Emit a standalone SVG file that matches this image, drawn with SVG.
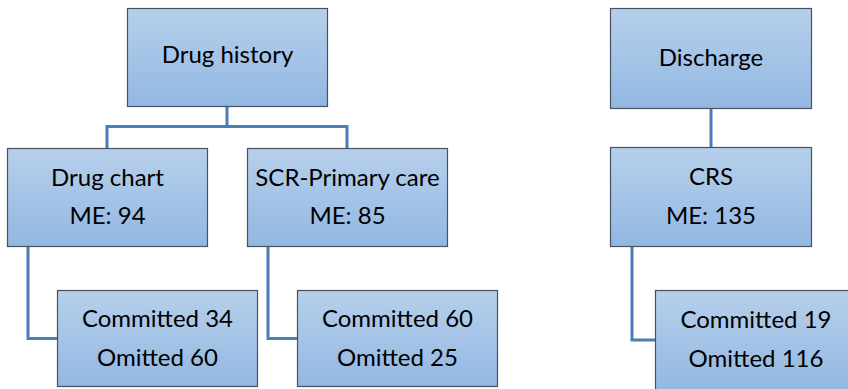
<svg xmlns="http://www.w3.org/2000/svg" width="848" height="389" viewBox="0 0 848 389">
  <defs>
    <linearGradient id="boxFill" x1="0" y1="0" x2="0" y2="1">
      <stop offset="0" stop-color="#b6d0eb"/>
      <stop offset="1" stop-color="#93b7e2"/>
    </linearGradient>
  </defs>
  <style>
    .box { fill: url(#boxFill); stroke: #46525f; stroke-width: 1.2; }
    .lbl { font-family: Lato, "Liberation Sans", sans-serif; font-size: 24px; fill: #000; text-anchor: middle; }
    .wire { fill: none; stroke: #4a7eb6; stroke-width: 3; }
  </style>
  <rect width="848" height="389" fill="#fff"/>

  <!-- connectors -->
  <g id="connectors">
    <path class="wire" d="M227 106 V126.5 M107 148 V126.5 H347 V148"/>
    <path class="wire" d="M711 108 V147"/>
    <path class="wire" d="M28 247 V338.5 H57"/>
    <path class="wire" d="M268 247 V338.5 H297"/>
    <path class="wire" d="M632 247 V340 H655"/>
  </g>

  <!-- nodes -->
  <g id="drug-history">
    <rect class="box" x="127.5" y="8.5" width="200" height="98"/>
    <text class="lbl" x="227.5" y="63">Drug history</text>
  </g>
  <g id="drug-chart">
    <rect class="box" x="7.5" y="148.5" width="200" height="98"/>
    <text class="lbl" x="107.5" y="186">Drug chart</text>
    <text class="lbl" x="107.5" y="224">ME: 94</text>
  </g>
  <g id="scr-primary-care">
    <rect class="box" x="247.5" y="148.5" width="200" height="98"/>
    <text class="lbl" x="347.5" y="186">SCR-Primary care</text>
    <text class="lbl" x="347.5" y="224">ME: 85</text>
  </g>
  <g id="drug-chart-errors">
    <rect class="box" x="57.5" y="290.5" width="200" height="96"/>
    <text class="lbl" x="157.5" y="327">Committed 34</text>
    <text class="lbl" x="157.5" y="366">Omitted 60</text>
  </g>
  <g id="scr-errors">
    <rect class="box" x="297.5" y="290.5" width="200" height="96"/>
    <text class="lbl" x="397.5" y="327">Committed 60</text>
    <text class="lbl" x="397.5" y="366">Omitted 25</text>
  </g>
  <g id="discharge">
    <rect class="box" x="610.5" y="8.5" width="201" height="100"/>
    <text class="lbl" x="711" y="66">Discharge</text>
  </g>
  <g id="crs">
    <rect class="box" x="610.5" y="147.5" width="201" height="99"/>
    <text class="lbl" x="711" y="185">CRS</text>
    <text class="lbl" x="711" y="224">ME: 135</text>
  </g>
  <g id="crs-errors">
    <rect class="box" x="655.5" y="290.5" width="201" height="102"/>
    <text class="lbl" x="756" y="328">Committed 19</text>
    <text class="lbl" x="756" y="367">Omitted 116</text>
  </g>
</svg>
